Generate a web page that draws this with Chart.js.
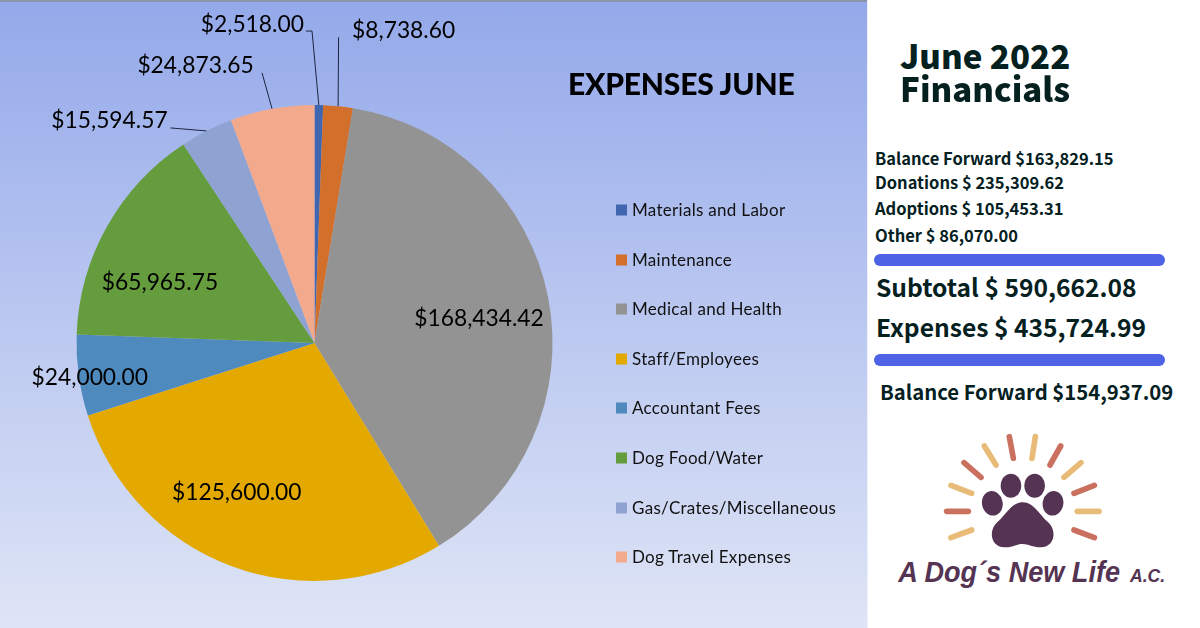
<!DOCTYPE html>
<html>
<head>
<meta charset="utf-8">
<title>June 2022 Financials</title>
<script src="https://cdn.jsdelivr.net/npm/chart.js@4"></script>
<style>
  html, body { margin: 0; padding: 0; background: #fff; }
  #page { position: relative; width: 1200px; height: 628px; overflow: hidden; }
  #panel {
    position: absolute; left: 0; top: 0; width: 867px; height: 628px;
    border-right: 1px solid #eef1fb;
    background: linear-gradient(180deg, #94a9ea 0%, #dfe5f6 100%);
  }
  #panel canvas { position: absolute; left: 0; top: 0; }
  #top-edge { position: absolute; left: 0; top: 0; width: 867px; height: 1.5px; background: #8b93ad; }
  #chart-title {
    position: absolute; left: 568px; top: 83px; transform: translateY(-50%);
    font: 900 30px Lato, sans-serif; color: #000; letter-spacing: -0.2px; white-space: nowrap;
  }
  .legend-row {
    position: absolute; left: 616px; transform: translateY(-50%);
    font: 400 17px Lato, sans-serif; color: #111; white-space: nowrap; letter-spacing: 0.3px;
  }
  .legend-row i { display: inline-block; width: 11px; height: 11px; margin-right: 5px; }
  .fin {
    position: absolute; transform: translateY(-50%); white-space: nowrap;
    font-family: "Noto Sans CJK JP", sans-serif; font-weight: 700; color: #04201f;
  }
  .bar { position: absolute; height: 12px; border-radius: 6px; background: #4d62e4; }
  #logo { position: absolute; left: 880px; top: 420px; }
</style>
</head>
<body>
<div id="page">
  <div id="panel">
    <canvas id="grafico" width="868" height="628"></canvas>
    <div id="top-edge"></div>
    <div id="chart-title">EXPENSES JUNE</div>
    <div id="legend"></div>
  </div>
  <div id="side"></div>
  <svg id="logo" width="310" height="180" viewBox="0 0 930 540"></svg>
</div>
<script>
// Expense data
const categories = ['Materials and Labor', 'Maintenance', 'Medical and Health', 'Staff/Employees',
  'Accountant Fees', 'Dog Food/Water', 'Gas/Crates/Miscellaneous', 'Dog Travel Expenses'];
const expenses = [2518.00, 8738.60, 168434.42, 125600.00, 24000.00, 65965.75, 15594.57, 24873.65];
const sliceColors = ['#3f66ae', '#d26f2b', '#939393', '#e3a900', '#4e8abe', '#659c3e', '#8fa3d3', '#f2a98c'];

// Label centre, relative to the point on the rim at the middle of each slice
const labelNudge = [[-66.5, -80], [65.5, -76], [-69, 21.5], [5, -73.5], [11, 2.5], [53, 56.5], [-97, -10], [-76.5, -43]];
// Leader line bends, relative to the same rim point
const leaderBends = [[[-6.8, -74], [-12.8, -74]], [[0.5, -69]], [], [], [], [], [[-36, -3]], [[-10, -36]]];

// Right hand column
const sideTexts = [
  ['June 2022', 900, 55, 33, 900], ['Financials', 900, 88, 33, 900],
  ['Balance Forward $163,829.15', 875, 157.5, 16.5, 700], ['Donations $ 235,309.62', 875, 181.5, 16.5, 700],
  ['Adoptions $ 105,453.31', 875, 207.5, 16.5, 700], ['Other $ 86,070.00', 875, 234.5, 16.5, 700],
  ['Subtotal $ 590,662.08', 876, 286, 24.6, 700], ['Expenses $ 435,724.99', 876, 326, 24.6, 700],
  ['Balance Forward $154,937.09', 880, 391, 20.3, 700]
];
const dividerTops = [254, 354];

function money(v) {
  return '$' + v.toLocaleString('en-US', { minimumFractionDigits: 2, maximumFractionDigits: 2 });
}

// Draws the value labels and the leader lines from the arcs the library laid out
const sliceLabels = {
  id: 'sliceLabels',
  afterDatasetsDraw(chart) {
    const ctx = chart.ctx;
    chart.getDatasetMeta(0).data.forEach(function (arc, i) {
      const p = arc.getProps(['x', 'y', 'startAngle', 'endAngle', 'outerRadius'], true);
      const mid = (p.startAngle + p.endAngle) / 2;
      const rimX = p.x + Math.cos(mid) * p.outerRadius;
      const rimY = p.y + Math.sin(mid) * p.outerRadius;
      const bends = leaderBends[i];
      if (bends.length) {
        ctx.beginPath();
        ctx.moveTo(rimX, rimY);
        bends.forEach(function (b) { ctx.lineTo(rimX + b[0], rimY + b[1]); });
        ctx.strokeStyle = '#1c2540';
        ctx.lineWidth = 1;
        ctx.stroke();
      }
      ctx.font = '22.8px Lato, sans-serif';
      ctx.fillStyle = '#000';
      ctx.textAlign = 'center';
      ctx.textBaseline = 'middle';
      ctx.fillText(money(expenses[i]), rimX + labelNudge[i][0], rimY + labelNudge[i][1]);
    });
  }
};

new Chart(document.getElementById('grafico').getContext('2d'), {
  type: 'pie',
  data: {
    labels: categories,
    datasets: [{ data: expenses, backgroundColor: sliceColors, borderWidth: 0 }]
  },
  options: {
    responsive: false,
    animation: false,
    layout: { padding: { left: 76.5, right: 315.5, top: 105, bottom: 47 } },
    plugins: { legend: { display: false }, tooltip: { enabled: false } }
  },
  plugins: [sliceLabels]
});

// Legend
const legend = document.getElementById('legend');
categories.forEach(function (name, i) {
  const row = document.createElement('div');
  row.className = 'legend-row';
  row.style.top = (209 + i * 49.6) + 'px';
  row.innerHTML = '<i style="background:' + sliceColors[i] + '"></i>' + name;
  legend.appendChild(row);
});

// Right hand text and dividers
const side = document.getElementById('side');
sideTexts.forEach(function (t) {
  const el = document.createElement('div');
  el.className = 'fin';
  el.textContent = t[0];
  el.style.left = t[1] + 'px';
  el.style.top = t[2] + 'px';
  el.style.fontSize = t[3] + 'px';
  el.style.fontWeight = t[4];
  side.appendChild(el);
});
dividerTops.forEach(function (top) {
  const bar = document.createElement('div');
  bar.className = 'bar';
  bar.style.cssText = 'left:874px;width:291px;top:' + top + 'px';
  side.appendChild(bar);
});

// Logo
const rays = [
  [388, 50, 400, 115, 'r'], [466, 50, 456, 115, 't'], [313, 78, 348, 135, 't'], [542, 78, 510, 135, 'r'],
  [252, 128, 303, 172, 'r'], [603, 128, 552, 172, 't'], [213, 196, 275, 220, 't'], [643, 196, 582, 220, 'r'],
  [200, 274, 265, 274, 'r'], [592, 274, 657, 274, 't'], [213, 353, 275, 330, 't'], [643, 353, 582, 330, 'r']
];
let logo = '';
rays.forEach(function (r) {
  logo += '<line x1="' + r[0] + '" y1="' + r[1] + '" x2="' + r[2] + '" y2="' + r[3] + '" stroke="' +
    (r[4] === 'r' ? '#c9705f' : '#e8bc78') + '" stroke-width="17" stroke-linecap="round"/>';
});
logo += '<g fill="#553352">' +
  '<ellipse cx="337" cy="250" rx="31" ry="37" transform="rotate(-12 337 250)"/>' +
  '<ellipse cx="393" cy="197" rx="31" ry="36"/>' +
  '<ellipse cx="464" cy="197" rx="31" ry="36"/>' +
  '<ellipse cx="519" cy="250" rx="31" ry="37" transform="rotate(12 519 250)"/>' +
  '<path d="M428 247 C462 247 478 285 506 308 C530 330 526 382 482 382 C458 382 445 372 428 372 C411 372 398 382 374 382 C330 382 326 330 350 308 C378 285 394 247 428 247 Z"/>' +
  '<text x="55" y="486" font-family="Liberation Sans" font-weight="700" font-style="italic" font-size="86" textLength="665" lengthAdjust="spacingAndGlyphs">A Dog´s New Life</text>' +
  '<text x="750" y="486" font-family="Liberation Sans" font-weight="700" font-style="italic" font-size="54" textLength="105" lengthAdjust="spacingAndGlyphs">A.C.</text>' +
  '</g>';
document.getElementById('logo').innerHTML = logo;
</script>
</body>
</html>
